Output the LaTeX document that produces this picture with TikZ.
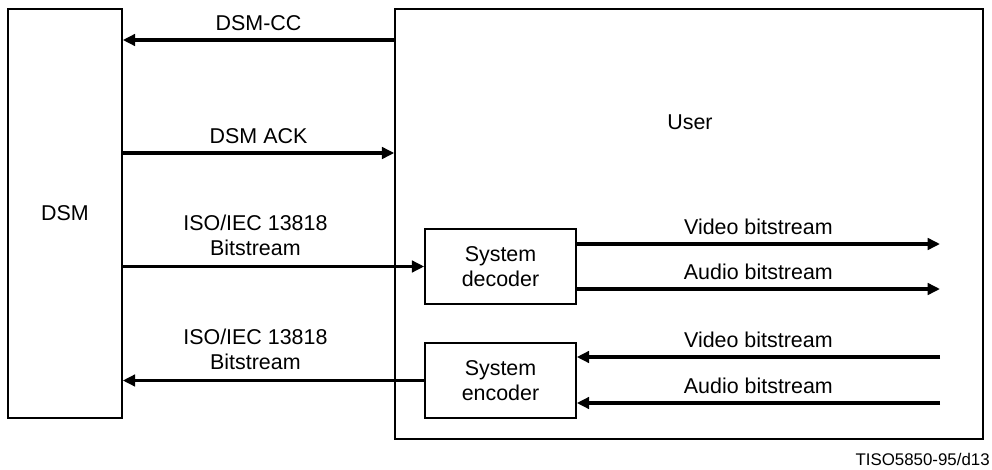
\documentclass[tikz,border=0pt]{standalone}
\usepackage{fontspec}
\setmainfont{Liberation Sans}
\usetikzlibrary{arrows.meta}

\tikzset{
  box/.style={draw, line width=0.9pt, inner sep=0pt},
  lbl/.style={font=\fontsize{12.2}{14.2}\selectfont, align=center},
  arr/.style={line width=1.8pt, -{Triangle[length=7pt,width=6.5pt]}},
  wire/.style={line width=1.8pt}
}

\begin{document}
\begin{tikzpicture}[x=0.02cm, y=-0.02cm]
    \useasboundingbox (0,0) rectangle (992,470);
    %\draw[help lines, step=50] (0,0) grid (992,470);
    \node[box, lbl, minimum width=2.28cm, minimum height=8.18cm] (dsm) at (65,213.5) {DSM};
    \node[box, minimum width=11.76cm, minimum height=8.60cm] (user) at (689,224) {};
    \node[lbl] (userlbl) at (690,122) {User};
    \node[box, lbl, minimum width=3.02cm, minimum height=1.50cm] (dec) at (500.5,266.5) {System\\decoder};
    \node[box, lbl, minimum width=3.02cm, minimum height=1.50cm] (enc) at (500.5,380.5) {System\\encoder};
    % free ends inside the user box
    \coordinate (vout) at (940,244);
    \coordinate (aout) at (940,289);
    \coordinate (vin) at (940,357);
    \coordinate (ain) at (940,403);

    % DSM <-> user
    \draw[arr] (user.west |- 0,40) -- (dsm.east |- 0,40)
        node[lbl, midway, above=1pt] {DSM-CC};
    \draw[arr] (dsm.east |- 0,153) -- (user.west |- 0,153)
        node[lbl, midway, above=1pt] {DSM ACK};
    \draw[arr] (dsm.east |- dec.west) -- (dec.west)
        node[lbl, pos=0.44, above=2pt] {ISO/IEC 13818\\Bitstream};
    \draw[arr] (enc.west) -- (dsm.east |- enc.west)
        node[lbl, pos=0.56, above=2pt] {ISO/IEC 13818\\Bitstream};

    % elementary streams
    \draw[arr] (dec.east |- vout) -- (vout) node[lbl, midway, above=1pt] {Video bitstream};
    \draw[arr] (dec.east |- aout) -- (aout) node[lbl, midway, above=1pt] {Audio bitstream};
    \draw[arr] (vin) -- (enc.east |- vin) node[lbl, midway, above=1pt] {Video bitstream};
    \draw[arr] (ain) -- (enc.east |- ain) node[lbl, midway, above=1pt] {Audio bitstream};

    \node[font=\fontsize{9.6}{11}\selectfont, anchor=east, inner sep=0pt] (ref) at (990,459) {TISO5850-95/d13};
\end{tikzpicture}
\end{document}
